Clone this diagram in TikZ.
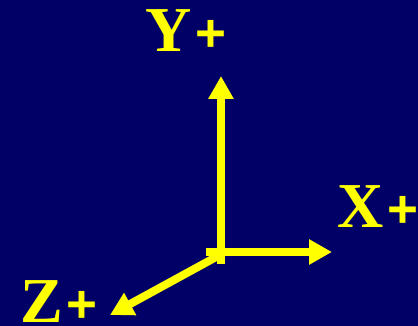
\documentclass[tikz,border=0pt]{standalone}
\usepackage{fontspec}
\setmainfont{Liberation Serif}
\newfontfamily\plusfont{Liberation Sans}
\usetikzlibrary{arrows.meta}
\definecolor{bg}{RGB}{0,0,102}
\definecolor{ax}{RGB}{255,255,0}
\tikzset{
  axis/.style={draw=ax, line width=8pt, -{Triangle[length=23pt,width=24pt]}},
  lbl/.style={text=ax, inner sep=0pt, anchor=base west, font=\fontsize{64}{64}\selectfont\bfseries},
}
\newcommand{\plussign}{\hspace{4pt}{\plusfont\fontsize{53}{53}\selectfont\bfseries +}}
\begin{document}
\begin{tikzpicture}[x=1pt,y=-1pt]
\fill[bg] (0,0) rectangle (418,326);
\useasboundingbox (0,0) rectangle (418,326);
\coordinate (oy) at (221,264);
\coordinate (ox) at (206,252);
\coordinate (oz) at (218,256);
\coordinate (ty) at (221,76);
\coordinate (tx) at (332,252);
\coordinate (tz) at (110,315);
\draw[axis] (oy) -- (ty);
\draw[axis] (ox) -- (tx);
\draw[axis] (oz) -- (tz);
\node[lbl] (ly) at (145,52) {Y\plussign};
\node[lbl] (lx) at (337,227) {X\plussign};
\node[lbl] (lz) at (20,322) {Z\plussign};
\end{tikzpicture}
\end{document}
